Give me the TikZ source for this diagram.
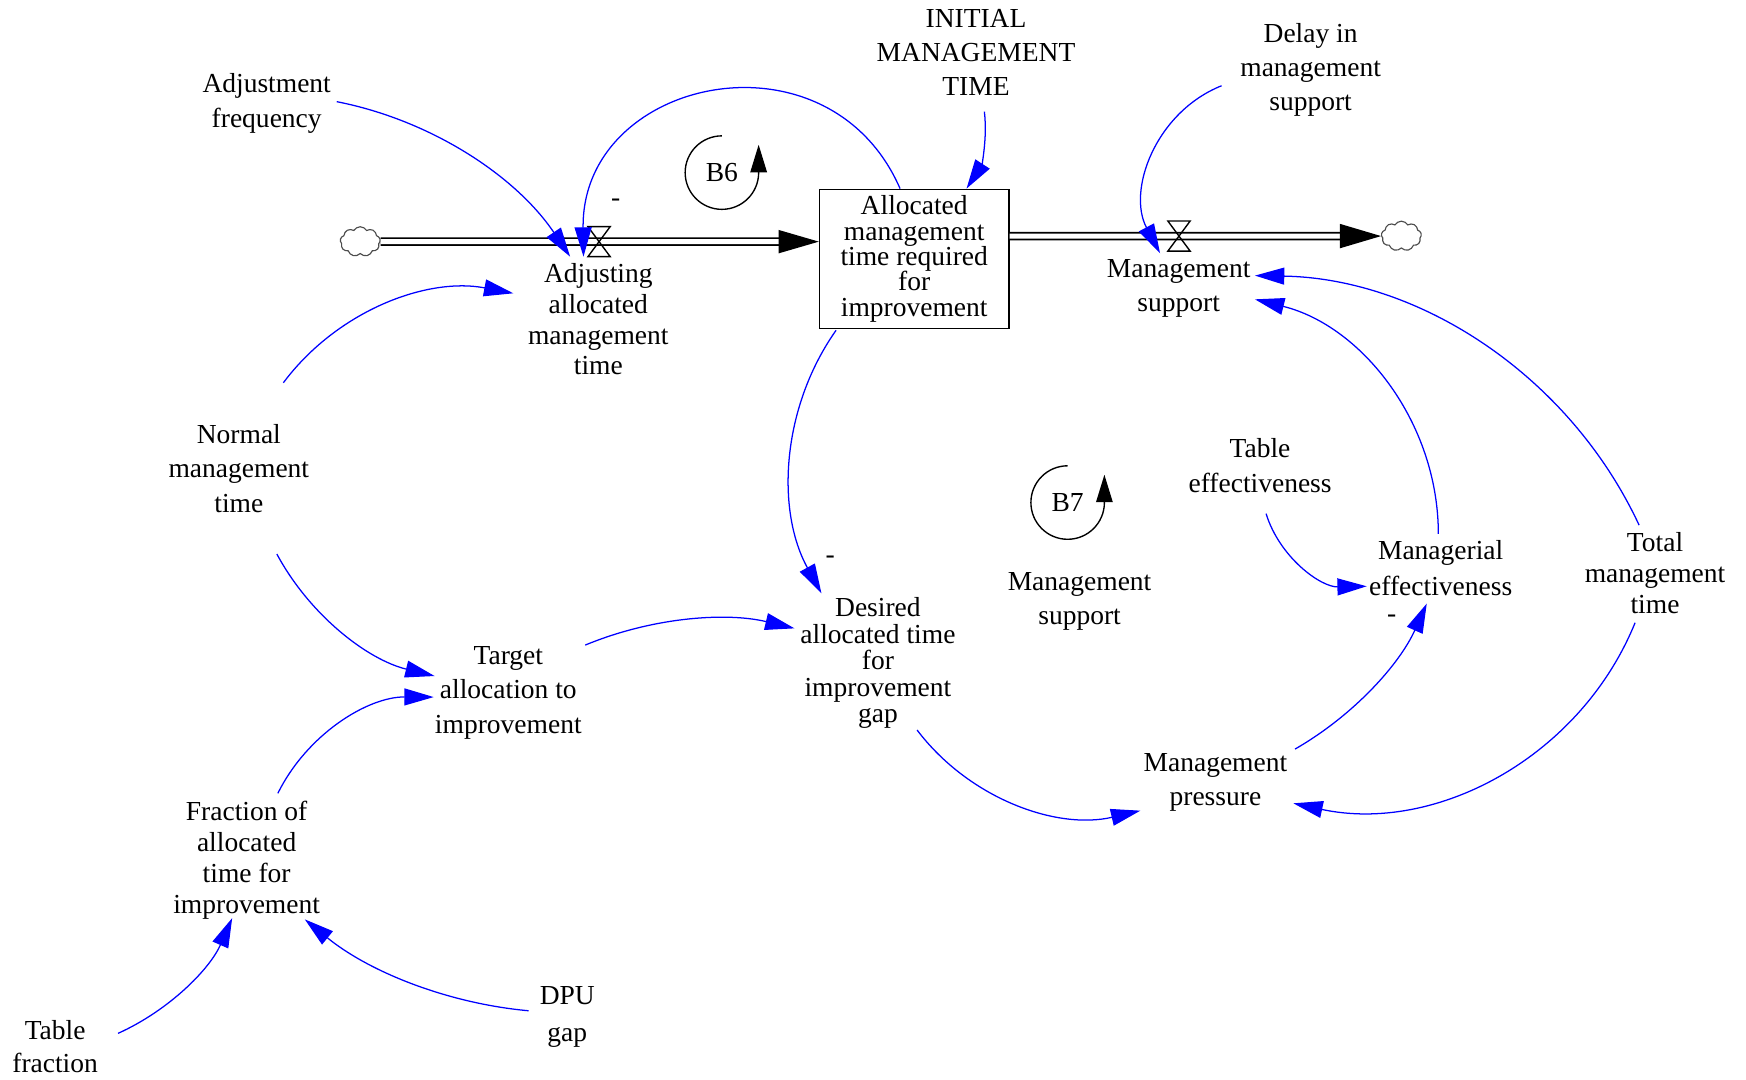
\documentclass[tikz,border=0pt]{standalone}
\usepackage{fontspec}
\setmainfont{Liberation Serif}
\usetikzlibrary{calc,arrows.meta,shapes.symbols}
\definecolor{linkblue}{RGB}{0,0,255}

\begin{document}
\begin{tikzpicture}[x=0.4858pt,y=-0.4858pt,
  lbl/.style={font=\fontsize{12}{#1}\selectfont, align=center, inner sep=0pt},
  lbl/.default=15pt,
  link/.style={draw=linkblue, line width=0.55pt, -{Triangle[length=12.8pt,width=7.4pt]}},
  pipe/.style={draw=black, line width=0.73pt, double=white, double distance=2.2pt},
  valve/.style={draw=black, line width=0.6pt},
  cloudnode/.style={cloud, cloud puffs=9, cloud puff arc=120, aspect=1.35,
    minimum width=17.5pt, minimum height=13pt, inner sep=0pt,
    draw=black!70, line width=0.5pt, fill=white},
  loopline/.style={draw=black, line width=0.6pt, -{Triangle[length=12pt,width=7.2pt]}}
]
\fill[white] (0,0) rectangle (1568,969);
\useasboundingbox (0,0) rectangle (1568,969);

% ---------- stock, flows and clouds ----------
\node[lbl=11.1pt, draw, line width=0.65pt, minimum width=82.6pt, minimum height=60.7pt]
  (stock) at (821,232.5) {Allocated\\management\\time required\\for\\improvement};
\node[cloudnode] (srcL) at (323.5,217) {};
\node[cloudnode] (snkR) at (1258.5,212) {};
\coordinate (inL) at ($(stock.west)+(0,-15.5)$);
\coordinate (outR) at ($(stock.east)+(0,-20.5)$);
\coordinate (vL) at (538,217);
\coordinate (vR) at (1058.8,212);

\draw[pipe] (srcL.east) -- ($(inL)+(-34,0)$);
\fill (inL) -- ++(-36,-10.5) -- ++(0,21) -- cycle;
\draw[pipe] (outR) -- ($(snkR.west)+(-35,0)$);
\fill (snkR.west) -- ++(-37,-11) -- ++(0,22) -- cycle;

\draw[valve] ($(vL)+(-10,-13.5)$) -- ($(vL)+(10,-13.5)$) -- ($(vL)+(-10,13.5)$) -- ($(vL)+(10,13.5)$) -- cycle;
\draw[valve] ($(vR)+(-10,-13.5)$) -- ($(vR)+(10,-13.5)$) -- ($(vR)+(-10,13.5)$) -- ($(vR)+(10,13.5)$) -- cycle;

% ---------- variables ----------
\node[lbl=15.3pt] (adjf) at (239.5,92.5) {Adjustment\\frequency};
\node[lbl=14.9pt] (init) at (876.5,47.3) {INITIAL\\MANAGEMENT\\TIME};
\node[lbl=14.8pt] (delay) at (1177,62.5) {Delay in\\management\\support};
\node[lbl=13.4pt] (adj) at (537.3,286.8) {Adjusting\\allocated\\management\\time};
\node[lbl=14.8pt] (msup) at (1058.5,258.8) {Management\\support};
\node[lbl=15.1pt] (nmt) at (214.5,420.6) {Normal\\management\\time};
\node[lbl=15.2pt] (teff) at (1131.6,418.3) {Table\\effectiveness};
\node[lbl=15.2pt] (b7lbl) at (969.5,540.1) {Management\\support};
\node[lbl=15.8pt] (meff) at (1293.8,510.3) {Managerial\\effectiveness};
\node[lbl=13.4pt] (tmt) at (1486.3,514.5) {Total\\management\\time};
\node[lbl=11.5pt] (des) at (788.4,595.5) {Desired\\allocated time\\for\\improvement\\gap};
\node[lbl=15.1pt] (tgt) at (456.5,622) {Target\\allocation to\\improvement};
\node[lbl=14.6pt] (mp) at (1091.5,702.5) {Management\\pressure};
\node[lbl=13.45pt] (frac) at (221.5,772.5) {Fraction of\\allocated\\time for\\improvement};
\node[lbl=14.6pt] (tfr) at (49.5,940) {Table\\fraction};
\node[lbl=16pt] (dpu) at (509.5,913.5) {DPU\\gap};

% polarity signs
\node[lbl] (m1) at (553,182.5) {-};
\node[lbl] (m2) at (745.5,503) {-};
\node[lbl] (m3) at (1249.8,556) {-};

% ---------- loop markers ----------
\node[lbl] (b6) at (648.3,155) {B6};
\node[lbl] (b7) at (958.8,451.3) {B7};
\draw[loopline] ([shift={(90:16.03pt)}]b6.center) arc[start angle=90, end angle=360, radius=16.03pt] -- ++(0,-25);
\draw[loopline] ([shift={(90:16.03pt)}]b7.center) arc[start angle=90, end angle=360, radius=16.03pt] -- ++(0,-25);

% ---------- causal links ----------
\draw[link] ($(adjf)+(62.9,-1.2)$) to[bend left=22.5, looseness=0.885] ($(vL)+(-26,13.5)$);
\draw[link] ($(stock.north)+(-12.7,0)$) to[bend right=78.6, looseness=1.42] ($(vL)+(-14,13.5)$);
\draw[link] ($(init)+(7.5,53)$) to[bend left=20, looseness=0.878] ($(stock.north)+(47,0)$);
\draw[link] ($(delay)+(-80,14.5)$) to[bend right=48, looseness=1.02] ($(vR)+(-17,15.5)$);
\draw[link] ($(nmt)+(40,-76.9)$) to[bend left=32, looseness=0.921] ($(adj)+(-76.3,-23.4)$);
\draw[link] ($(nmt)+(34.1,76.9)$) to[bend right=24, looseness=0.89] ($(tgt)+(-66.2,-14.9)$);
\draw[link] ($(frac)+(28,-60)$) to[bend left=32, looseness=0.921] ($(tgt)+(-67,4)$);
\draw[link] ($(tfr)+(56.5,-12)$) to[bend right=21, looseness=0.881] ($(frac)+(-13,52)$);
\draw[link] ($(dpu)+(-34.8,-5.8)$) to[bend left=17, looseness=0.87] ($(frac)+(52.2,53.1)$);
\draw[link] ($(tgt)+(69.1,-42.7)$) to[bend left=18, looseness=0.873] ($(des)+(-74.9,-31.2)$);
\draw[link] ($(stock.south)+(-70.2,1)$) to[bend right=32, looseness=0.921] ($(des)+(-50.7,-62.7)$);
\draw[link] ($(des)+(35.2,60.1)$) to[bend right=33, looseness=0.926] ($(mp)+(-67.4,25.5)$);
\draw[link] ($(mp)+(71.5,-29.8)$) to[bend right=18, looseness=0.873] ($(meff)+(-12.5,31.7)$);
\draw[link] ($(teff)+(5.4,43)$) to[bend right=37, looseness=0.947] ($(meff)+(-66.4,16.2)$);
\draw[link] ($(meff)+(-2.1,-30.8)$) to[bend right=38, looseness=0.952] ($(msup)+(68.5,10)$);
\draw[link] ($(tmt)+(-14.3,-42.9)$) to[bend right=32, looseness=0.921] ($(msup)+(68.5,-11.3)$);
\draw[link] ($(tmt)+(-17.9,44.7)$) to[bend left=40, looseness=0.964] ($(mp)+(70,18.9)$);
\end{tikzpicture}
\end{document}
